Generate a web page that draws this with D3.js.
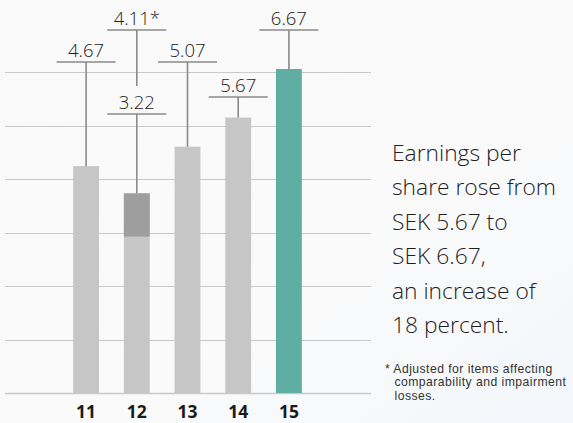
<!DOCTYPE html>
<html><head><meta charset="utf-8">
<script src="https://cdn.jsdelivr.net/npm/d3@7/dist/d3.min.js"></script>
<style>
html,body{margin:0;padding:0;background:#fafafa;}
svg{display:block;}
</style></head>
<body>
<svg id="chart" width="573" height="423"></svg>
<script>
// ---- data ----
const years = ["11", "12", "13", "14", "15"];
const eps = [4.67, 4.11, 5.07, 5.67, 6.67];          // bar top values
const epsReported = [null, 3.22, null, null, null];  // reported value (lighter part of 2012)
const valueLabels = ["4.67", "4.11*", "5.07", "5.67", "6.67"];
const reportedLabels = [null, "3.22", null, null, null];
const gridValues = [1.1, 2.2, 3.3, 4.4, 5.5, 6.6];
const textLines = ["Earnings per", "share rose from", "SEK 5.67 to", "SEK 6.67,", "an increase of", "18 percent."];
const footnoteLines = ["* Adjusted for items affecting", "comparability and impairment", "losses."];

// ---- layout ----
const svg = d3.select("#chart");
const W = 573, H = 423;
const defs = svg.append("defs");
const grad = defs.append("linearGradient").attr("id","bg").attr("x1","0").attr("y1","0").attr("x2","1").attr("y2","1");
grad.append("stop").attr("offset","0").attr("stop-color","#f9f9f9");
grad.append("stop").attr("offset","0.6").attr("stop-color","#fafafa");
grad.append("stop").attr("offset","1").attr("stop-color","#f3f7fb");
svg.append("rect").attr("width",W).attr("height",H).attr("fill","url(#bg)");

const x = d3.scaleBand().domain(years).range([61, 314]).paddingInner(0.49).paddingOuter(0.24);
const y = d3.scaleLinear().domain([0, 6.67]).range([393, 69]);

// gridlines
svg.append("g").selectAll("line").data(gridValues).join("line")
  .attr("x1", 5).attr("x2", 371)
  .attr("y1", d => Math.round(y(d)) + 0.5).attr("y2", d => Math.round(y(d)) + 0.5)
  .attr("stroke", "#c9c9c9").attr("stroke-width", 1.2);
// baseline
svg.append("line").attr("x1",5).attr("x2",371).attr("y1",393.5).attr("y2",393.5)
  .attr("stroke","#c9c9c9").attr("stroke-width",1.5);

// bars
const barColor = (d,i) => i === years.length - 1 ? "#5eaea4" : "#c6c6c6";
svg.append("g").selectAll("rect").data(years).join("rect")
  .attr("x", d => x(d)).attr("width", x.bandwidth())
  .attr("y", (d,i) => y(eps[i])).attr("height", (d,i) => y(0) - y(eps[i]))
  .attr("fill", barColor);
// darker adjusted portion for 2012
svg.append("g").selectAll("rect").data(years.filter((d,i)=>epsReported[i]!==null)).join("rect")
  .attr("x", d => x(d)).attr("width", x.bandwidth())
  .attr("y", d => y(eps[years.indexOf(d)]))
  .attr("height", d => y(epsReported[years.indexOf(d)]) - y(eps[years.indexOf(d)]))
  .attr("fill", "#9e9e9e");

// label positions (leader heights, layout only)
const labelLineY = [62, 30, 62, 97, 30];
const reportedLineY = [null, 114, null, null, null];
const halfW = 29.5;
const lineColor = "#8a8a8a";
const font = "'Open Sans', 'Noto Sans', sans-serif";

const lab = svg.append("g");
years.forEach((d,i) => {
  const cx = x(d) + x.bandwidth()/2;
  const ly = labelLineY[i];
  lab.append("line").attr("x1", cx-halfW).attr("x2", cx+halfW).attr("y1", ly).attr("y2", ly)
    .attr("stroke", lineColor).attr("stroke-width", 1.6);
  const bottom = reportedLineY[i] !== null ? 86 : y(eps[i]);
  lab.append("line").attr("x1", cx).attr("x2", cx).attr("y1", ly).attr("y2", bottom)
    .attr("stroke", lineColor).attr("stroke-width", 1.6);
  lab.append("text").attr("x", cx).attr("y", ly - 5).attr("text-anchor","middle")
    .attr("font-family", font).attr("font-size", 18.5).attr("font-weight", 300).attr("fill","#222")
    .text(valueLabels[i]);
  if (reportedLineY[i] !== null) {
    const ry = reportedLineY[i];
    lab.append("line").attr("x1", cx-halfW).attr("x2", cx+halfW).attr("y1", ry).attr("y2", ry)
      .attr("stroke", lineColor).attr("stroke-width", 1.6);
    lab.append("line").attr("x1", cx).attr("x2", cx).attr("y1", ry).attr("y2", y(eps[i]))
      .attr("stroke", lineColor).attr("stroke-width", 1.6);
    lab.append("text").attr("x", cx).attr("y", ry - 5).attr("text-anchor","middle")
      .attr("font-family", font).attr("font-size", 18.5).attr("font-weight", 300).attr("fill","#222")
      .text(reportedLabels[i]);
  }
});

// x axis labels
const xAxis = d3.axisBottom(x).tickSize(0).tickPadding(0);
const gx = svg.append("g").attr("transform", "translate(0,418)").call(xAxis);
gx.select(".domain").remove();
gx.selectAll("text").attr("font-family", font).attr("font-size", 17.5)
  .attr("font-weight", 700).attr("fill", "#1a1a1a").attr("dy", "0");

// side text
svg.append("g").selectAll("text").data(textLines).join("text")
  .attr("x", 392).attr("y", (d,i) => 161 + i*34.4)
  .attr("font-family", font).attr("font-size", 22.8).attr("font-weight", 300).attr("fill","#1e1e1e")
  .text(d => d);

svg.append("g").selectAll("text").data(footnoteLines).join("text")
  .attr("x", (d,i) => i === 0 ? 385 : 394.5).attr("y", (d,i) => 372.5 + i*13.8)
  .attr("font-family", "'Liberation Sans', Arial, sans-serif").attr("font-size", 12.2)
  .attr("letter-spacing", 0.45).attr("fill","#333")
  .text(d => d);
</script>
</body></html>
